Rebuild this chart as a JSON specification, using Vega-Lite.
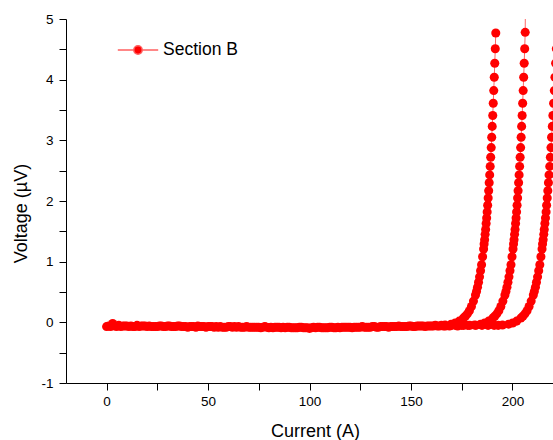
{
  "$schema": "https://vega.github.io/schema/vega-lite/v6.json",
  "width": 487,
  "height": 364,
  "autosize": {"type": "none"},
  "padding": {"left": 66, "top": 19, "right": 0, "bottom": 57},
  "background": "white",
  "config": {
    "view": {"stroke": null},
    "font": "Liberation Sans",
    "axis": {
      "grid": false,
      "domainColor": "#000",
      "domainWidth": 1,
      "tickColor": "#000",
      "tickWidth": 1,
      "tickSize": 7,
      "labelColor": "#000",
      "labelFont": "Liberation Sans",
      "labelFontSize": 13.5,
      "titleFont": "Liberation Sans",
      "titleFontSize": 18,
      "titleFontWeight": "normal",
      "titleColor": "#000",
      "labelOverlap": false,
      "labelFlush": false
    }
  },
  "data": {"values": [
    {"run":1,"current":0,"voltage":-0.07},{"run":1,"current":3,"voltage":-0.02},{"run":1,"current":6,"voltage":-0.05},{"run":1,"current":9,"voltage":-0.06},{"run":1,"current":12,"voltage":-0.06},{"run":1,"current":15,"voltage":-0.05},{"run":1,"current":18,"voltage":-0.06},{"run":1,"current":21,"voltage":-0.06},{"run":1,"current":24,"voltage":-0.07},{"run":1,"current":27,"voltage":-0.06},{"run":1,"current":30,"voltage":-0.06},{"run":1,"current":33,"voltage":-0.07},{"run":1,"current":36,"voltage":-0.06},{"run":1,"current":39,"voltage":-0.07},{"run":1,"current":42,"voltage":-0.07},{"run":1,"current":45,"voltage":-0.06},{"run":1,"current":48,"voltage":-0.07},{"run":1,"current":51,"voltage":-0.07},{"run":1,"current":54,"voltage":-0.07},{"run":1,"current":57,"voltage":-0.08},{"run":1,"current":60,"voltage":-0.07},{"run":1,"current":63,"voltage":-0.07},{"run":1,"current":66,"voltage":-0.08},{"run":1,"current":69,"voltage":-0.07},{"run":1,"current":72,"voltage":-0.08},{"run":1,"current":75,"voltage":-0.08},{"run":1,"current":78,"voltage":-0.07},{"run":1,"current":81,"voltage":-0.08},{"run":1,"current":84,"voltage":-0.08},{"run":1,"current":87,"voltage":-0.08},{"run":1,"current":90,"voltage":-0.08},{"run":1,"current":93,"voltage":-0.09},{"run":1,"current":96,"voltage":-0.08},{"run":1,"current":99,"voltage":-0.09},{"run":1,"current":102,"voltage":-0.08},{"run":1,"current":105,"voltage":-0.08},{"run":1,"current":108,"voltage":-0.09},{"run":1,"current":111,"voltage":-0.08},{"run":1,"current":114,"voltage":-0.08},{"run":1,"current":117,"voltage":-0.08},{"run":1,"current":120,"voltage":-0.08},{"run":1,"current":123,"voltage":-0.08},{"run":1,"current":126,"voltage":-0.07},{"run":1,"current":129,"voltage":-0.08},{"run":1,"current":132,"voltage":-0.07},{"run":1,"current":135,"voltage":-0.07},{"run":1,"current":138,"voltage":-0.07},{"run":1,"current":141,"voltage":-0.07},{"run":1,"current":144,"voltage":-0.06},{"run":1,"current":147,"voltage":-0.07},{"run":1,"current":150,"voltage":-0.06},{"run":1,"current":153,"voltage":-0.06},{"run":1,"current":156,"voltage":-0.06},{"run":1,"current":159,"voltage":-0.06},{"run":1,"current":162,"voltage":-0.05},{"run":1,"current":165,"voltage":-0.05},
    {"run":1,"current":166.8,"voltage":-0.045},{"run":1,"current":169.8,"voltage":-0.03},{"run":1,"current":171.8,"voltage":-0.01},{"run":1,"current":173.8,"voltage":0.02},{"run":1,"current":175.8,"voltage":0.07},{"run":1,"current":176.8,"voltage":0.10},{"run":1,"current":177.8,"voltage":0.14},{"run":1,"current":178.8,"voltage":0.19},{"run":1,"current":179.8,"voltage":0.26},{"run":1,"current":180.8,"voltage":0.35},{"run":1,"current":181.8,"voltage":0.45},{"run":1,"current":182.3,"voltage":0.51},{"run":1,"current":182.8,"voltage":0.58},{"run":1,"current":183.3,"voltage":0.66},{"run":1,"current":183.8,"voltage":0.75},{"run":1,"current":184.3,"voltage":0.85},{"run":1,"current":184.8,"voltage":0.95},{"run":1,"current":185.3,"voltage":1.08},{"run":1,"current":185.8,"voltage":1.21},{"run":1,"current":186.05,"voltage":1.29},{"run":1,"current":186.3,"voltage":1.36},{"run":1,"current":186.55,"voltage":1.45},{"run":1,"current":186.8,"voltage":1.53},{"run":1,"current":187.05,"voltage":1.63},{"run":1,"current":187.3,"voltage":1.72},{"run":1,"current":187.55,"voltage":1.82},{"run":1,"current":187.8,"voltage":1.93},{"run":1,"current":188.05,"voltage":2.05},{"run":1,"current":188.3,"voltage":2.17},{"run":1,"current":188.55,"voltage":2.30},{"run":1,"current":188.8,"voltage":2.43},{"run":1,"current":189.05,"voltage":2.57},{"run":1,"current":189.3,"voltage":2.72},{"run":1,"current":189.55,"voltage":2.88},{"run":1,"current":189.8,"voltage":3.05},{"run":1,"current":190.05,"voltage":3.23},{"run":1,"current":190.3,"voltage":3.41},{"run":1,"current":190.55,"voltage":3.61},{"run":1,"current":190.8,"voltage":3.82},{"run":1,"current":191.05,"voltage":4.04},{"run":1,"current":191.3,"voltage":4.27},{"run":1,"current":191.55,"voltage":4.51},{"run":1,"current":191.8,"voltage":4.77},
    {"run":2,"current":1,"voltage":-0.06},{"run":2,"current":4,"voltage":-0.06},{"run":2,"current":7,"voltage":-0.07},{"run":2,"current":10,"voltage":-0.06},{"run":2,"current":13,"voltage":-0.07},{"run":2,"current":16,"voltage":-0.07},{"run":2,"current":19,"voltage":-0.06},{"run":2,"current":22,"voltage":-0.07},{"run":2,"current":25,"voltage":-0.07},{"run":2,"current":28,"voltage":-0.07},{"run":2,"current":31,"voltage":-0.06},{"run":2,"current":34,"voltage":-0.07},{"run":2,"current":37,"voltage":-0.07},{"run":2,"current":40,"voltage":-0.08},{"run":2,"current":43,"voltage":-0.07},{"run":2,"current":46,"voltage":-0.07},{"run":2,"current":49,"voltage":-0.08},{"run":2,"current":52,"voltage":-0.07},{"run":2,"current":55,"voltage":-0.08},{"run":2,"current":58,"voltage":-0.08},{"run":2,"current":61,"voltage":-0.07},{"run":2,"current":64,"voltage":-0.08},{"run":2,"current":67,"voltage":-0.08},{"run":2,"current":70,"voltage":-0.08},{"run":2,"current":73,"voltage":-0.08},{"run":2,"current":76,"voltage":-0.09},{"run":2,"current":79,"voltage":-0.08},{"run":2,"current":82,"voltage":-0.09},{"run":2,"current":85,"voltage":-0.08},{"run":2,"current":88,"voltage":-0.09},{"run":2,"current":91,"voltage":-0.09},{"run":2,"current":94,"voltage":-0.09},{"run":2,"current":97,"voltage":-0.09},{"run":2,"current":100,"voltage":-0.10},{"run":2,"current":103,"voltage":-0.09},{"run":2,"current":106,"voltage":-0.09},{"run":2,"current":109,"voltage":-0.09},{"run":2,"current":112,"voltage":-0.09},{"run":2,"current":115,"voltage":-0.09},{"run":2,"current":118,"voltage":-0.08},{"run":2,"current":121,"voltage":-0.09},{"run":2,"current":124,"voltage":-0.08},{"run":2,"current":127,"voltage":-0.08},{"run":2,"current":130,"voltage":-0.08},{"run":2,"current":133,"voltage":-0.08},{"run":2,"current":136,"voltage":-0.07},{"run":2,"current":139,"voltage":-0.08},{"run":2,"current":142,"voltage":-0.07},{"run":2,"current":145,"voltage":-0.07},{"run":2,"current":148,"voltage":-0.07},{"run":2,"current":151,"voltage":-0.07},{"run":2,"current":154,"voltage":-0.06},{"run":2,"current":157,"voltage":-0.07},{"run":2,"current":160,"voltage":-0.06},{"run":2,"current":163,"voltage":-0.06},{"run":2,"current":166,"voltage":-0.06},{"run":2,"current":169,"voltage":-0.06},{"run":2,"current":172,"voltage":-0.05},{"run":2,"current":175,"voltage":-0.05},{"run":2,"current":178,"voltage":-0.05},
    {"run":2,"current":181.3,"voltage":-0.045},{"run":2,"current":184.3,"voltage":-0.03},{"run":2,"current":186.3,"voltage":-0.01},{"run":2,"current":188.3,"voltage":0.02},{"run":2,"current":190.3,"voltage":0.07},{"run":2,"current":191.3,"voltage":0.10},{"run":2,"current":192.3,"voltage":0.14},{"run":2,"current":193.3,"voltage":0.19},{"run":2,"current":194.3,"voltage":0.26},{"run":2,"current":195.3,"voltage":0.35},{"run":2,"current":196.3,"voltage":0.45},{"run":2,"current":196.8,"voltage":0.51},{"run":2,"current":197.3,"voltage":0.58},{"run":2,"current":197.8,"voltage":0.66},{"run":2,"current":198.3,"voltage":0.75},{"run":2,"current":198.8,"voltage":0.85},{"run":2,"current":199.3,"voltage":0.95},{"run":2,"current":199.8,"voltage":1.08},{"run":2,"current":200.3,"voltage":1.21},{"run":2,"current":200.55,"voltage":1.29},{"run":2,"current":200.8,"voltage":1.36},{"run":2,"current":201.05,"voltage":1.45},{"run":2,"current":201.3,"voltage":1.53},{"run":2,"current":201.55,"voltage":1.63},{"run":2,"current":201.8,"voltage":1.72},{"run":2,"current":202.05,"voltage":1.82},{"run":2,"current":202.3,"voltage":1.93},{"run":2,"current":202.55,"voltage":2.05},{"run":2,"current":202.8,"voltage":2.17},{"run":2,"current":203.05,"voltage":2.30},{"run":2,"current":203.3,"voltage":2.43},{"run":2,"current":203.55,"voltage":2.57},{"run":2,"current":203.8,"voltage":2.72},{"run":2,"current":204.05,"voltage":2.88},{"run":2,"current":204.3,"voltage":3.05},{"run":2,"current":204.55,"voltage":3.23},{"run":2,"current":204.8,"voltage":3.41},{"run":2,"current":205.05,"voltage":3.61},{"run":2,"current":205.3,"voltage":3.82},{"run":2,"current":205.55,"voltage":4.04},{"run":2,"current":205.8,"voltage":4.27},{"run":2,"current":206.05,"voltage":4.51},{"run":2,"current":206.3,"voltage":4.78},{"run":2,"current":206.45,"voltage":5.4},
    {"run":3,"current":2,"voltage":-0.07},{"run":3,"current":5,"voltage":-0.07},{"run":3,"current":8,"voltage":-0.06},{"run":3,"current":11,"voltage":-0.07},{"run":3,"current":14,"voltage":-0.07},{"run":3,"current":17,"voltage":-0.06},{"run":3,"current":20,"voltage":-0.07},{"run":3,"current":23,"voltage":-0.07},{"run":3,"current":26,"voltage":-0.06},{"run":3,"current":29,"voltage":-0.07},{"run":3,"current":32,"voltage":-0.07},{"run":3,"current":35,"voltage":-0.06},{"run":3,"current":38,"voltage":-0.07},{"run":3,"current":41,"voltage":-0.07},{"run":3,"current":44,"voltage":-0.08},{"run":3,"current":47,"voltage":-0.07},{"run":3,"current":50,"voltage":-0.07},{"run":3,"current":53,"voltage":-0.08},{"run":3,"current":56,"voltage":-0.07},{"run":3,"current":59,"voltage":-0.08},{"run":3,"current":62,"voltage":-0.08},{"run":3,"current":65,"voltage":-0.07},{"run":3,"current":68,"voltage":-0.08},{"run":3,"current":71,"voltage":-0.08},{"run":3,"current":74,"voltage":-0.08},{"run":3,"current":77,"voltage":-0.08},{"run":3,"current":80,"voltage":-0.09},{"run":3,"current":83,"voltage":-0.08},{"run":3,"current":86,"voltage":-0.09},{"run":3,"current":89,"voltage":-0.08},{"run":3,"current":92,"voltage":-0.09},{"run":3,"current":95,"voltage":-0.08},{"run":3,"current":98,"voltage":-0.09},{"run":3,"current":101,"voltage":-0.09},{"run":3,"current":104,"voltage":-0.08},{"run":3,"current":107,"voltage":-0.09},{"run":3,"current":110,"voltage":-0.08},{"run":3,"current":113,"voltage":-0.09},{"run":3,"current":116,"voltage":-0.08},{"run":3,"current":119,"voltage":-0.08},{"run":3,"current":122,"voltage":-0.08},{"run":3,"current":125,"voltage":-0.08},{"run":3,"current":128,"voltage":-0.08},{"run":3,"current":131,"voltage":-0.07},{"run":3,"current":134,"voltage":-0.08},{"run":3,"current":137,"voltage":-0.07},{"run":3,"current":140,"voltage":-0.07},{"run":3,"current":143,"voltage":-0.07},{"run":3,"current":146,"voltage":-0.07},{"run":3,"current":149,"voltage":-0.06},{"run":3,"current":152,"voltage":-0.07},{"run":3,"current":155,"voltage":-0.06},{"run":3,"current":158,"voltage":-0.06},{"run":3,"current":161,"voltage":-0.06},{"run":3,"current":164,"voltage":-0.06},{"run":3,"current":167,"voltage":-0.06},{"run":3,"current":170,"voltage":-0.05},{"run":3,"current":173,"voltage":-0.06},{"run":3,"current":176,"voltage":-0.05},{"run":3,"current":179,"voltage":-0.05},{"run":3,"current":182,"voltage":-0.05},{"run":3,"current":185,"voltage":-0.05},{"run":3,"current":188,"voltage":-0.05},{"run":3,"current":191,"voltage":-0.05},{"run":3,"current":193,"voltage":-0.05},
    {"run":3,"current":195.1,"voltage":-0.045},{"run":3,"current":198.1,"voltage":-0.03},{"run":3,"current":200.1,"voltage":-0.01},{"run":3,"current":202.1,"voltage":0.02},{"run":3,"current":204.15,"voltage":0.07},{"run":3,"current":205.15,"voltage":0.10},{"run":3,"current":206.15,"voltage":0.14},{"run":3,"current":207.2,"voltage":0.19},{"run":3,"current":208.2,"voltage":0.26},{"run":3,"current":209.25,"voltage":0.35},{"run":3,"current":210.3,"voltage":0.45},{"run":3,"current":210.8,"voltage":0.51},{"run":3,"current":211.35,"voltage":0.58},{"run":3,"current":211.85,"voltage":0.66},{"run":3,"current":212.4,"voltage":0.75},{"run":3,"current":212.95,"voltage":0.85},{"run":3,"current":213.5,"voltage":0.95},{"run":3,"current":214.05,"voltage":1.08},{"run":3,"current":214.6,"voltage":1.21},{"run":3,"current":214.85,"voltage":1.29},{"run":3,"current":215.15,"voltage":1.36},{"run":3,"current":215.45,"voltage":1.45},{"run":3,"current":215.7,"voltage":1.53},{"run":3,"current":216.0,"voltage":1.63},{"run":3,"current":216.3,"voltage":1.72},{"run":3,"current":216.6,"voltage":1.82},{"run":3,"current":216.85,"voltage":1.93},{"run":3,"current":217.15,"voltage":2.05},{"run":3,"current":217.45,"voltage":2.17},{"run":3,"current":217.75,"voltage":2.30},{"run":3,"current":218.05,"voltage":2.43},{"run":3,"current":218.4,"voltage":2.57},{"run":3,"current":218.7,"voltage":2.72},{"run":3,"current":219.0,"voltage":2.88},{"run":3,"current":219.3,"voltage":3.05},{"run":3,"current":219.65,"voltage":3.23},{"run":3,"current":219.95,"voltage":3.41},{"run":3,"current":220.3,"voltage":3.61},{"run":3,"current":220.65,"voltage":3.82},{"run":3,"current":220.95,"voltage":4.04},{"run":3,"current":221.3,"voltage":4.27},{"run":3,"current":221.65,"voltage":4.51}
  ]},
  "encoding": {
    "x": {
      "field": "current", "type": "quantitative",
      "scale": {"domain": [-20, 220], "nice": false, "zero": false},
      "axis": {
        "title": "Current (A)",
        "values": [0, 25, 50, 75, 100, 125, 150, 175, 200],
        "labelExpr": "datum.value % 50 === 0 ? '' + datum.value : ''",
        "labelPadding": 4,
        "titleX": 249,
        "titleY": 53,
        "titleBaseline": "alphabetic",
        "titleAlign": "center",
        "encode": {"ticks": {"update": {"y2": {"signal": "datum.value % 50 === 0 ? 7 : 4"}}}}
      }
    },
    "y": {
      "field": "voltage", "type": "quantitative",
      "scale": {"domain": [-1, 5], "nice": false, "zero": false},
      "axis": {
        "title": "Voltage (µV)",
        "values": [-1, -0.5, 0, 0.5, 1, 1.5, 2, 2.5, 3, 3.5, 4, 4.5, 5],
        "labelExpr": "datum.value % 1 === 0 ? '' + datum.value : ''",
        "labelPadding": 6,
        "titleX": -40,
        "titleY": 194,
        "titleAngle": -90,
        "titleBaseline": "alphabetic",
        "titleAlign": "center",
        "encode": {"ticks": {"update": {"x2": {"signal": "datum.value % 1 === 0 ? -7 : -4"}}}}
      }
    },
    "detail": {"field": "run", "type": "nominal"}
  },
  "layer": [
    {
      "mark": {"type": "line", "clip": true, "color": "#ff0000", "strokeWidth": 1, "opacity": 0.6}
    },
    {
      "mark": {"type": "point", "clip": true, "filled": true, "shape": "circle", "size": 82, "opacity": 1},
      "encoding": {
        "color": {
          "datum": "Section B",
          "scale": {"range": ["#ff0000"]},
          "legend": {
            "title": null,
            "orient": "none",
            "legendX": 61,
            "legendY": 20,
            "padding": 0,
            "symbolType": "M-2.02,0L-0.42,0M0.42,0L2.02,0M-0.42,0A0.42,0.42,0,1,1,0.42,0A0.42,0.42,0,1,1,-0.42,0Z",
            "symbolSize": 400,
            "symbolStrokeWidth": 1.5,
            "symbolStrokeColor": "#ff6060",
            "symbolFillColor": "#ff0000",
            "symbolOpacity": 1,
            "labelFont": "Liberation Sans",
            "labelFontSize": 17.5,
            "labelColor": "#000",
            "labelOffset": 14,
            "encode": {"symbols": {"update": {"fill": {"value": "#ff0000"}, "stroke": {"value": "#ff6060"}, "strokeWidth": {"value": 1.5}, "opacity": {"value": 1}}}}
          }
        }
      }
    }
  ]
}
